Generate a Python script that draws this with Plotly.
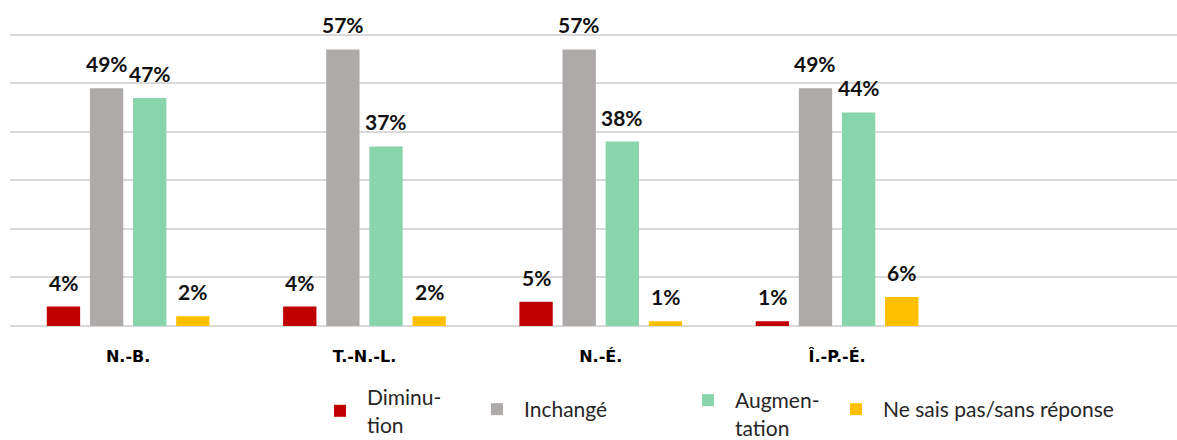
import plotly.graph_objects as go

# Survey results by province
regions = ["N.-B.", "T.-N.-L.", "N.-É.", "Î.-P.-É."]
series_names = ["Diminu-<br>tion", "Inchangé", "Augmen-<br>tation", "Ne sais pas/sans réponse"]
diminution = [4, 4, 5, 1]
inchange = [49, 57, 57, 49]
augmentation = [47, 37, 38, 44]
ne_sais_pas = [2, 2, 1, 6]
series_values = [diminution, inchange, augmentation, ne_sais_pas]

colors = ["#C00000", "#AEAAAA", "#88D4AB", "#FFC000"]
legend_ids = ["legend", "legend2", "legend3", "legend4"]

W, H = 1177, 440
Y_MAX = 61
M_L, M_R, M_T, M_B = 10, 0, 30, 114
plot_w = W - M_L - M_R
plot_h = H - M_T - M_B
cat_px = 236.3                      # pixel width of one category slot
x_range = [-0.5, -0.5 + plot_w / cat_px]
bargap = 0.27
bargroupgap = 0.227
slot_px = cat_px * (1 - bargap) / 4  # width of each bar slot inside a group

fig = go.Figure()
for i, (name, vals) in enumerate(zip(series_names, series_values)):
    fig.add_trace(go.Bar(
        x=regions, y=vals, name=name,
        marker=dict(color=colors[i], line=dict(width=0)),
        legend=legend_ids[i],
        hoverinfo="skip",
    ))
    # value labels above each bar
    for r, v in zip(regions, vals):
        fig.add_annotation(
            x=r, y=v, xref="x", yref="y",
            text=f"{v}%", showarrow=False,
            xanchor="center", yanchor="bottom",
            xshift=(i - 1.5) * slot_px, yshift=10,
            font=dict(family="Lato", size=21, color="#111111", weight="bold"),
        )

legend_font = dict(family="Lato", size=21, color="#262626")
# (left px, symbol alignment, top px) for each legend entry
legend_pos = [(313, "middle", 377), (470, "middle", 389), (681, "top", 380), (829, "middle", 389)]
legend_layout = {}
for lid, (px, valign, py) in zip(legend_ids, legend_pos):
    legend_layout[lid] = dict(
        x=(px - M_L) / plot_w, xanchor="left",
        y=(M_T + plot_h - py) / plot_h, yanchor="top",
        orientation="h", font=legend_font, valign=valign,
        bgcolor="rgba(0,0,0,0)", itemwidth=44,
    )

fig.update_layout(
    width=W, height=H, autosize=False,
    margin=dict(l=M_L, r=M_R, t=M_T, b=M_B, autoexpand=False),
    paper_bgcolor="white", plot_bgcolor="white",
    barmode="group", bargap=bargap, bargroupgap=bargroupgap,
    showlegend=True,
    xaxis=dict(
        range=x_range, showgrid=False, zeroline=False, showline=False,
        ticks="", ticklabelstandoff=19,
        tickfont=dict(family="DejaVu Sans", size=16, color="#000000", weight="bold"),
    ),
    yaxis=dict(
        range=[0, Y_MAX], dtick=10, showticklabels=False,
        showgrid=True, gridcolor="#D9D9D9", gridwidth=1.5,
        zeroline=True, zerolinecolor="#D9D9D9", zerolinewidth=2,
    ),
    **legend_layout,
)

fig.write_html("out.html")
